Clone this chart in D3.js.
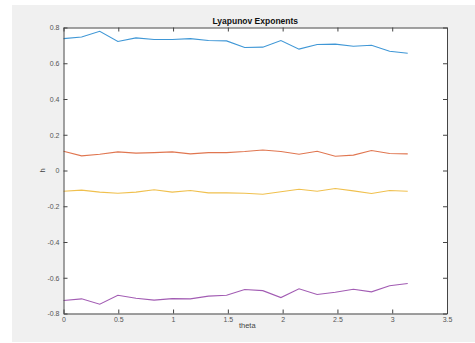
<!DOCTYPE html>
<html><head><meta charset="utf-8">
<script src="https://cdn.jsdelivr.net/npm/d3@7"></script>
<style>html,body{margin:0;padding:0;background:#fff;}svg{display:block;}</style>
</head><body>
<svg id="c" width="475" height="343"></svg>
<script>
const N = 20;
const thetaValues = d3.range(N).map(i => i * Math.PI / (N - 1));
const seriesBlue   = [0.738,0.747,0.779,0.722,0.742,0.733,0.733,0.738,0.727,0.725,0.688,0.690,0.727,0.679,0.705,0.707,0.695,0.701,0.667,0.656];
const seriesOrange = [0.108,0.082,0.091,0.104,0.097,0.100,0.104,0.093,0.100,0.100,0.106,0.115,0.106,0.091,0.108,0.080,0.086,0.112,0.095,0.093];
const seriesYellow = [-0.116,-0.110,-0.121,-0.127,-0.121,-0.108,-0.121,-0.112,-0.125,-0.125,-0.127,-0.133,-0.119,-0.105,-0.116,-0.101,-0.114,-0.129,-0.112,-0.116];
const seriesPurple = [-0.727,-0.718,-0.748,-0.698,-0.715,-0.725,-0.717,-0.718,-0.703,-0.698,-0.666,-0.672,-0.711,-0.662,-0.694,-0.681,-0.664,-0.679,-0.645,-0.632];
const xTicks = [0,0.5,1,1.5,2,2.5,3,3.5];
const yTicks = [-0.8,-0.6,-0.4,-0.2,0,0.2,0.4,0.6,0.8];
const titleText = "Lyapunov Exponents";
const xLabel = "theta";
const yLabel = "h";

const series = [
  {values: seriesBlue, color: "#3f97d6"},
  {values: seriesOrange, color: "#e07650"},
  {values: seriesYellow, color: "#f0c04e"},
  {values: seriesPurple, color: "#a25cb3"}
];

const svg = d3.select("#c");
svg.append("rect").attr("x",12).attr("y",5).attr("width",463).attr("height",337).attr("fill","#f0f0f0");

const L = 63.5, R = 447, T = 27.5, B = 313.5;
const x = d3.scaleLinear().domain([0,3.5]).range([L,R]);
const y = d3.scaleLinear().domain([-0.8,0.8]).range([B,T]);

svg.append("rect").attr("x",L).attr("y",T).attr("width",R-L).attr("height",B-T).attr("fill","#fff");

const line = d3.line().x((d,i)=>x(thetaValues[i])).y(d=>y(d));
series.forEach(s=>{
  svg.append("path").attr("d",line(s.values)).attr("fill","none")
    .attr("stroke",s.color).attr("stroke-width",1.1);
});

const fmt = d => String(d);
const axColor = "#555";
function styleAxis(g, showText){
  g.select(".domain").attr("stroke","#444").attr("stroke-width",1);
  g.selectAll(".tick line").attr("stroke","#444");
  g.selectAll(".tick text").attr("fill", showText ? "#555" : "none")
    .style("font-family","'Liberation Sans', Arial, sans-serif").style("font-size","7px");
}
const gx = svg.append("g").attr("transform",`translate(0,${B})`)
  .call(d3.axisBottom(x).tickValues(xTicks).tickFormat(fmt).tickSizeInner(-4).tickSizeOuter(0).tickPadding(4));
styleAxis(gx,true);
const gxt = svg.append("g").attr("transform",`translate(0,${T})`)
  .call(d3.axisTop(x).tickValues(xTicks).tickFormat("").tickSizeInner(-4).tickSizeOuter(0));
styleAxis(gxt,false);
const gy = svg.append("g").attr("transform",`translate(${L},0)`)
  .call(d3.axisLeft(y).tickValues(yTicks).tickFormat(fmt).tickSizeInner(-4).tickSizeOuter(0).tickPadding(4));
styleAxis(gy,true);
const gyr = svg.append("g").attr("transform",`translate(${R},0)`)
  .call(d3.axisRight(y).tickValues(yTicks).tickFormat("").tickSizeInner(-4).tickSizeOuter(0));
styleAxis(gyr,false);

svg.append("text").attr("x",(L+R)/2).attr("y",24).attr("text-anchor","middle")
  .style("font-family","'Liberation Sans', Arial, sans-serif").style("font-size","8.5px").style("font-weight","bold")
  .attr("fill","#111").text(titleText);
svg.append("text").attr("x",(L+R)/2 - 8).attr("y",328).attr("text-anchor","middle")
  .style("font-family","'Liberation Sans', Arial, sans-serif").style("font-size","7.5px")
  .attr("fill","#444").text(xLabel);
svg.append("text").attr("transform",`translate(45,${y(0)}) rotate(-90)`).attr("text-anchor","middle")
  .style("font-family","'Liberation Sans', Arial, sans-serif").style("font-size","7.5px")
  .attr("fill","#444").text(yLabel);
</script>
</body></html>
